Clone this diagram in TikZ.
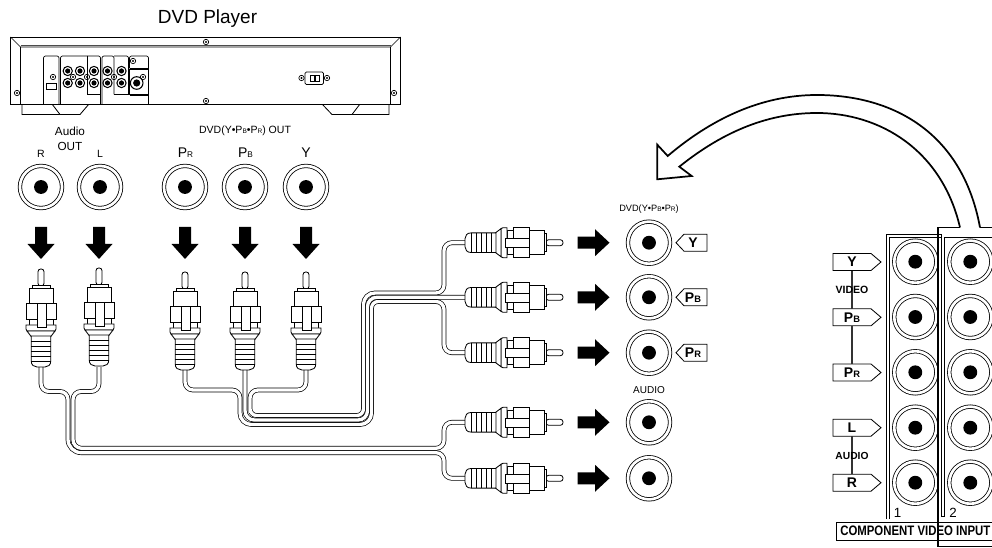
\documentclass[tikz,border=0pt]{standalone}
\usepackage{fontspec}
\usepackage{graphicx}
\setmainfont{Liberation Sans}
\newcommand\sm[1]{{\fontsize{6.2}{7}\selectfont #1}}
\newcommand\smb[1]{{\fontsize{7}{8}\selectfont #1}}
\newcommand\smt[1]{{\fontsize{4.9}{6}\selectfont #1}}
\tikzset{
  ln/.style={draw=black,line width=0.62pt,fill=white},
  thinln/.style={draw=black,line width=0.5pt},
  jack/.style={circle,draw=black,line width=0.6pt,double=white,double distance=2pt,
    minimum size=31.6pt,inner sep=0pt,fill=white,
    path picture={\fill[black] (path picture bounding box.center) circle (5.2pt);}},
  cable/.style={draw=black,line width=0.52pt,double=white,double distance=2.5pt},
  bigarrow/.style={draw=black,line width=1.3pt,fill=white,line join=miter},
  solidarrow/.style={fill=black},
  lab/.style={inner sep=0pt,text=black},
  tagtext/.style={inner sep=0pt,minimum width=28.5pt,minimum height=12.75pt,
     font=\fontsize{10.5}{12}\selectfont\bfseries},
  link/.style={draw=black!80,line width=1.7pt},
  plug/.pic={
    \draw[ln,rounded corners=2pt] (-3,17)--(-3,0)--(3,0)--(3,17)--cycle;
    \draw[thinln,fill=white] (-9,16.5) rectangle (9,19);
    \draw[ln] (-12,19) rectangle (12,34);
    \draw[ln] (-12,50) rectangle (12,56);
    \draw[ln] (-15,34) rectangle (15,50);
    \draw[ln] (-15,56)--(15,56)--(15,60)--(14,62)--(-14,62)--(-15,60)--cycle;
    \draw[ln] (-14,62)--(-9.5,68)--(9.5,68)--(14,62)--cycle;
    \draw[ln] (-9.8,67)--(-9.8,92) .. controls (-9.8,96) and (-7,98) .. (-4,98)--(4,98)
       .. controls (7,98) and (9.8,96) .. (9.8,92)--(9.8,67)--cycle;
    \foreach \yy in {72,77,82,87,92} \draw[thinln] (-9.8,\yy)--(9.8,\yy);
    \draw[ln] (-4,34) rectangle (5,58);
    \coordinate (-end) at (0,98);
  },
  downarrow/.pic={\fill[solidarrow] (-6,0)--(6,0)--(6,17)--(13.5,17)--(0,32)--(-13.5,17)--(-6,17)--cycle;},
  rightarrow/.pic={\fill[solidarrow] (0,-6)--(17.5,-6)--(17.5,-13.5)--(32,0)--(17.5,13.5)--(17.5,6)--(0,6)--cycle;},
  tagright/.pic={
    \draw[ln] (-19,-8.5)--(19,-8.5)--(29,0)--(19,8.5)--(-19,8.5)--cycle;
    \node[tagtext] (-t) at (0,0) {#1};
  },
  tagleft/.pic={
    \draw[ln] (31,-8.5)--(8,-8.5)--(0,0)--(8,8.5)--(31,8.5)--cycle;
    \node[tagtext,minimum width=20pt] (-t) at (17,0) {#1};
  },
  screw/.pic={\draw[thinln,fill=white] (0,0) circle (2.7); \fill (0,0) circle (1.2);},
  minijack/.pic={\draw[line width=.8pt,fill=white] (0,0) circle (4.6); \fill (0,0) circle (2.6);\draw[white,line width=.25pt] (0,0) circle (3.4);},
}
\begin{document}
\begin{tikzpicture}[x=0.75pt,y=-0.75pt]
\useasboundingbox (0,0) rectangle (992,548);
\clip (0,0) rectangle (992,548);
\fill[white] (0,0) rectangle (992,548);

% ---- DVD player back
\node[lab,font=\fontsize{14.25}{16}\selectfont] (title) at (207.5,19) {DVD Player};
\draw[ln] (22,104)--(22,114.5)--(80,114.5)--(89,104);
\draw[ln] (52,104)--(60,114.5);
\draw[ln] (389,104)--(389,114.5)--(332,114.5)--(322,104);
\draw[ln] (360,104)--(352,114.5);
\draw[ln] (10.5,37) rectangle (400.5,104);
\draw[thinln] (10.5,37)--(20.5,47)--(390.5,47)--(400.5,37);
\draw[thinln] (20.5,47)--(20.5,104);
\draw[thinln] (390.5,47)--(390.5,104);
\draw[black!70,line width=.5pt] (20.5,45.8)--(390.5,45.8);
\foreach \px/\py in {206/42,206/101,17/93,394/93,53/77,73/77,87/77,114/77,133/61,143/77,301.5/78,327/78}
  \pic at (\px,\py) {screw};
\draw[thinln,rounded corners=1.5pt] (59,104)--(59,56)--(43.5,56)--(43.5,104);
\draw[thinln] (46.5,83) rectangle (56,89.5);
\draw[thinln,rounded corners=1.5pt] (60.5,104)--(60.5,56)--(87,56);
\draw[thinln,rounded corners=1.5pt] (87,56)--(87,94.5);
\draw[line width=.9pt] (87,94.5)--(100.5,94.5);
\draw[thinln,rounded corners=1.5pt] (87,56)--(100.5,56)--(100.5,104);
\draw[thinln,rounded corners=1.5pt] (102,104)--(102,56)--(114,56)--(114,94.5);
\draw[thinln,rounded corners=1.5pt] (114,56)--(128.5,56)--(128.5,94.5);
\draw[line width=.9pt] (114,94.5)--(128.5,94.5);
\draw[thinln,rounded corners=1.5pt] (129.5,68.5)--(129.5,56)--(148.5,56)--(148.5,68.5);
\draw[line width=.9pt] (129.5,69)--(148.5,69);
\draw[thinln,rounded corners=1.5pt] (148.5,69)--(148.5,94.5);
\draw[line width=.9pt] (129.5,95)--(148.5,95);
\draw[thinln,rounded corners=1.5pt] (129.5,95)--(129.5,69);
\draw[thinln,rounded corners=1.5pt] (148.5,95)--(148.5,104);
\foreach \jx in {67.7,80,94,107.5,121.5} {
  \pic at (\jx,71) {minijack};
  \pic at (\jx,83) {minijack};
}
\draw[line width=.8pt,fill=white] (136.7,83) circle (6.3);
\fill (136.7,83) circle (3.6);
\draw[thinln,fill=white,rounded corners=1pt] (305,72) rectangle (323.5,84.5);
\draw[thinln] (310,75.5) rectangle (315,81) (314,75.5) rectangle (319,81);

% ---- top labels
\node[lab,font=\fontsize{8.8}{10}\selectfont] (audio) at (70,131) {Audio};
\node[lab,font=\fontsize{8.8}{10}\selectfont] (out) at (70,146) {OUT};
\node[lab,font=\fontsize{7.9}{9}\selectfont] (lr) at (41,154) {R};
\node[lab,font=\fontsize{7.9}{9}\selectfont] (ll) at (100,154) {L};
\node[lab,font=\fontsize{7.9}{9}\selectfont] (dvdout) at (245,131) {DVD(Y•P\smt{B}•P\smt{R}) OUT};
\node[lab,font=\fontsize{10.5}{12}\selectfont] (lpr) at (185.5,153) {P\sm{R}};
\node[lab,font=\fontsize{10.5}{12}\selectfont] (lpb) at (245.5,153) {P\sm{B}};
\node[lab,font=\fontsize{10.5}{12}\selectfont] (ly) at (306,153) {Y};

% ---- top jacks
\node[jack] (jR) at (41,187) {};
\node[jack] (jL) at (100,187) {};
\node[jack] (jPR) at (185,187) {};
\node[jack] (jPB) at (245,187) {};
\node[jack] (jY) at (306,187) {};
\foreach \ax in {41,99,185,245,306} \pic at (\ax,227) {downarrow};

% ---- plug cable ends
\coordinate (pRe) at (41,367);
\coordinate (pLe) at (99,367);
\coordinate (pPRe) at (185,370);
\coordinate (pPBe) at (245,370);
\coordinate (pYe) at (306,370);
\coordinate (qYe) at (466,242.7);
\coordinate (qPBe) at (466,297.3);
\coordinate (qPRe) at (466,352.7);
\coordinate (qA1e) at (466,422.3);
\coordinate (qA2e) at (466,478.3);

% audio cables
\draw[cable,rounded corners=6pt] (pRe)--(41,391.5)--(68,391.5)--(68,420)[rounded corners=10pt]--(68,452.7)--(300,452.7)[rounded corners=6pt]--(444,452.7)--(444,478.3)--(qA2e);
\draw[cable,rounded corners=6pt] (pLe)--(99,391.5)--(73,391.5)--(73,420)[rounded corners=6.5pt]--(73,448.3)--(300,448.3)[rounded corners=6pt]--(444,448.3)--(444,422.3)--(qA1e);
% video cables
\draw[cable,rounded corners=6pt] (pPRe)--(185,390)--(240,390)--(240,405)[rounded corners=8.5pt]--(240,424.5)--(371.5,424.5)--(371.5,350)[rounded corners=5pt]--(371.5,301.5)[rounded corners=6pt]--(444,301.5)--(444,352.7)--(qPRe);
\draw[cable,rounded corners=6pt] (pYe)--(306,390)--(250,390)--(250,405)[rounded corners=5pt]--(250,415.5)--(300,415.5)--(363.5,415.5)--(363.5,350)[rounded corners=8.5pt]--(363.5,293)--(400,293)[rounded corners=6pt]--(444,293)--(444,242.7)--(qYe);
\draw[cable,rounded corners=7pt] (pPBe)--(245,420)--(367.5,420)--(367.5,297.3)--(qPBe);

% plugs
\pic (pR) at (41,269) {plug};
\pic (pL) at (99,268) {plug};
\pic (pPR) at (185,272) {plug};
\pic (pPB) at (245,272) {plug};
\pic (pY) at (306,272) {plug};
\pic[rotate=-90] (qY) at (563,242.7) {plug};
\pic[rotate=-90] (qPB) at (563,297.3) {plug};
\pic[rotate=-90] (qPR) at (563,352.7) {plug};
\pic[rotate=-90] (qA1) at (563,422.3) {plug};
\pic[rotate=-90] (qA2) at (563,478.3) {plug};

% middle arrows and jacks
\foreach \ay in {242.7,297.3,352.7,422.3,478.3} \pic at (577.5,\ay) {rightarrow};
\node[jack] (mY) at (649,242.7) {};
\node[jack] (mPB) at (649,297.3) {};
\node[jack] (mPR) at (649,352.7) {};
\node[jack] (mA1) at (649,422.3) {};
\node[jack] (mA2) at (649,478.3) {};
\node[lab,font=\fontsize{6.9}{8}\selectfont] (ldvd) at (649,209.5) {DVD(Y•P\smt{B}•P\smt{R})};
\node[lab,font=\fontsize{7.5}{9}\selectfont] (laudio) at (649,390) {AUDIO};
\pic (tmY) at (676,242.7) {tagleft={Y}};
\pic (tmPB) at (676,297.3) {tagleft={P\smb{B}}};
\pic (tmPR) at (676,352.7) {tagleft={P\smb{R}}};

% ---- right panel
\draw[thinln] (886,519)--(886,234)--(941,234)--(941,516)--(944,516)--(944,237)--(992,237);
\draw[thinln] (889.5,519)--(889.5,237.5)--(941,237.5);
\foreach \jy/\jn in {261.7/a,317/b,372.3/c,427.7/d,482.7/e} {
  \node[jack] (c1\jn) at (915.3,\jy) {};
  \node[jack] (c2\jn) at (970.3,\jy) {};
}
\pic (tY) at (852,262) {tagright={Y}};
\pic (tPB) at (852,317.3) {tagright={P\smb{B}}};
\pic (tPR) at (852,372.5) {tagright={P\smb{R}}};
\pic (tL) at (852,427.7) {tagright={L}};
\pic (tRr) at (852,482.7) {tagright={R}};
\draw[link] (tY-t.south)--(tPB-t.north);
\draw[link] (tPB-t.south)--(tPR-t.north);
\draw[link] (tL-t.south)--(tRr-t.north);
\node[lab,font=\fontsize{7.9}{9}\selectfont\bfseries] (lvideo) at (852,290) {VIDEO};
\node[lab,font=\fontsize{7.7}{9}\selectfont\bfseries] (laud2) at (852,456) {AUDIO};
\node[lab,font=\fontsize{10}{12}\selectfont] (n1) at (897.5,513) {1};
\node[lab,font=\fontsize{10}{12}\selectfont] (n2) at (953,513) {2};
\draw[ln] (836,522) rectangle (1000,540);
\node[lab,anchor=west,font=\fontsize{10.3}{12}\selectfont\bfseries] (comp) at (840,531)
   {\scalebox{.83}[1]{COMPONENT VIDEO INPUT}};
\coordinate (panelBL) at (937.7,546.5);
\coordinate (panelTL) at (937.7,227.5);
\draw[draw=black,line width=1.3pt,line join=miter] (1000,546.5)--(panelBL)--(panelTL)--(960,227.5);
\draw[draw=black,line width=1.3pt] (980,227.5)--(1000,227.5);

% big curved arrow
\draw[bigarrow] (980,227.5) .. controls (962,130) and (890,95) .. (817,95)
   .. controls (760,95) and (710,120) .. (667.7,156)
   -- (657.3,144.7) -- (657.3,179.3) -- (691.7,176) -- (679.3,166.7)
   .. controls (725,130) and (770,113) .. (817,113)
   .. controls (880,113) and (942,150) .. (960,227.5);
\end{tikzpicture}
\end{document}
